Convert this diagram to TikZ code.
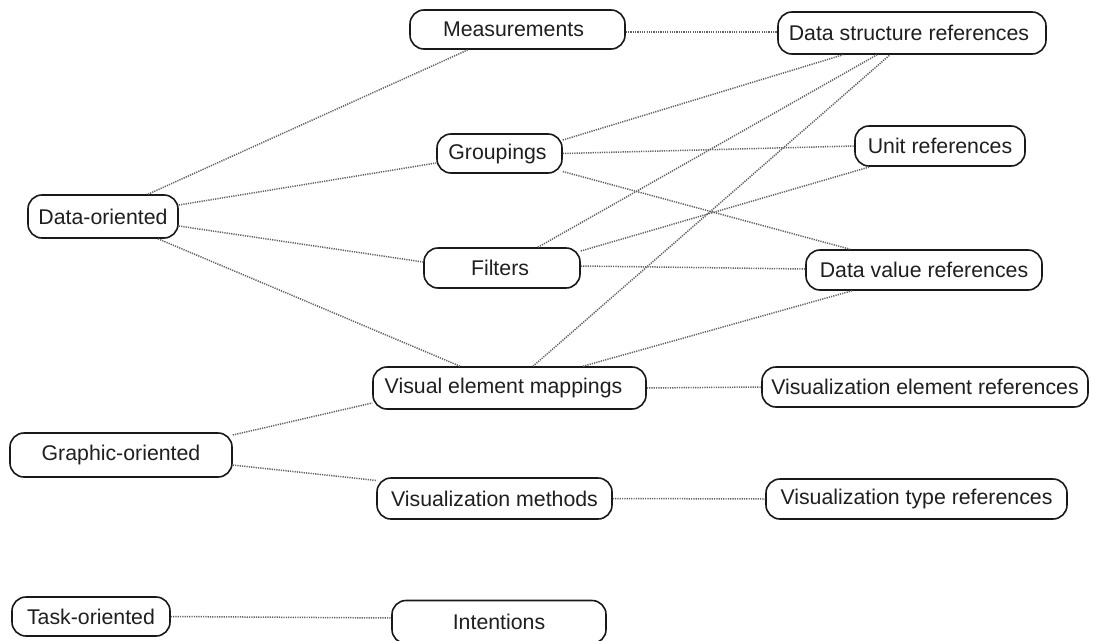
\documentclass[tikz,border=0pt]{standalone}
\usepackage{fontspec}
\setmainfont{Liberation Sans}
\begin{document}
\begin{tikzpicture}[x=1pt,y=-1pt,
  concept/.style={draw=black!90, line width=1.6pt, rounded corners=14pt, inner sep=0pt,
    font=\fontsize{21.3}{25}\selectfont, text=black!88},
  link/.style={draw=black!62, line width=1.5pt, dash pattern=on 1.2pt off 1.1pt}]
\useasboundingbox (0,0) rectangle (1100,640);
\fill[white] (0,0) rectangle (1100,640);

% concept boxes
\node[concept, minimum width=215pt, minimum height=39pt] (meas) at (517.5,29.5) {\hspace*{-8pt}Measurements};
\node[concept, minimum width=268pt, minimum height=42pt] (dsr)  at (912,33)    {\hspace*{-6pt}Data structure references};
\node[concept, minimum width=125pt, minimum height=39pt] (grp)  at (499.5,153.5) {\hspace*{-4pt}Groupings};
\node[concept, minimum width=170pt, minimum height=40pt] (unit) at (940,146)   {Unit references};
\node[concept, minimum width=150pt, minimum height=43pt] (dor)  at (103,216.5) {Data-oriented};
\node[concept, minimum width=156pt, minimum height=40pt] (fil)  at (502,268)   {\hspace*{-4pt}Filters};
\node[concept, minimum width=236pt, minimum height=40pt] (dvr)  at (924,270)   {Data value references};
\node[concept, minimum width=273pt, minimum height=42pt] (vem)  at (509.5,388) {\hspace*{-12pt}Visual element mappings};
\node[concept, minimum width=326pt, minimum height=40pt] (ver)  at (925,387)   {Visualization element references};
\node[concept, minimum width=222pt, minimum height=44pt] (gor)  at (121,455)   {Graphic-oriented};
\node[concept, minimum width=235pt, minimum height=41pt] (vm)   at (494.5,498.5) {Visualization methods};
\node[concept, minimum width=301pt, minimum height=40pt] (vtr)  at (916.5,499) {Visualization type references};
\node[concept, minimum width=158pt, minimum height=39pt] (tor)  at (91,616.5)  {Task-oriented};
\node[concept, minimum width=214pt, minimum height=43pt] (int)  at (499,622)   {Intentions};

% links
\draw[link] ([xshift=45pt]dor.north) -- ([xshift=-49.5pt]meas.south);
\draw[link] ([yshift=11.5pt]dor.east) -- ([yshift=-9.5pt]grp.west);
\draw[link] ([yshift=-9.5pt]dor.east) -- ([yshift=6pt]fil.west);
\draw[link] ([xshift=55pt]dor.south) -- ([xshift=-49.5pt]vem.north);

\draw[link] ([yshift=-2.5pt]meas.east) -- ([yshift=1pt]dsr.west);

\draw[link] ([yshift=13.5pt]grp.east) -- ([xshift=-69pt]dsr.south);
\draw[link] (grp.east) -- (unit.west);
\draw[link] ([yshift=-18pt]grp.east) -- ([xshift=-74pt]dvr.north);

\draw[link] ([xshift=36pt]fil.north) -- ([xshift=-35pt]dsr.south);
\draw[link] ([yshift=17pt]fil.east) -- ([xshift=-70pt]unit.south);
\draw[link] ([yshift=2pt]fil.east) -- ([yshift=1pt]dvr.west);

\draw[link] ([xshift=23.5pt]vem.north) -- ([xshift=-22pt]dsr.south);
\draw[link] ([xshift=73.5pt]vem.north) -- ([xshift=-72pt]dvr.south);
\draw[link] (vem.east) -- (ver.west);

\draw[link] ([yshift=20pt]gor.east) -- ([yshift=-15pt]vem.west);
\draw[link] ([yshift=-10pt]gor.east) -- ([yshift=18pt]vm.west);
\draw[link] (vm.east) -- (vtr.west);

\draw[link] (tor.east) -- ([yshift=4pt]int.west);
\end{tikzpicture}
\end{document}
